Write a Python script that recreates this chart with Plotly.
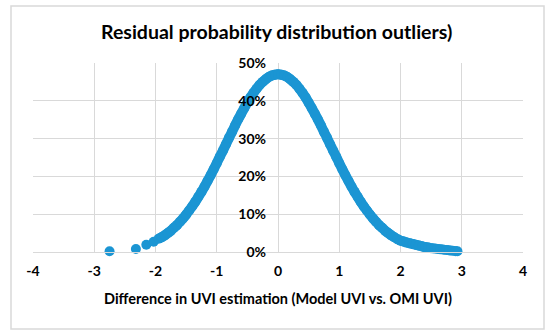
import plotly.graph_objects as go

# Sparse left-tail residual points
tail_x = [-2.75, -2.32, -2.15, -2.03]
tail_y = [0.002, 0.008, 0.019, 0.027]

# Dense residual points (x difference, probability)
dense_x = [-1.95, -1.90, -1.85, -1.80, -1.75, -1.70, -1.65, -1.60, -1.55, -1.50,
           -1.45, -1.40, -1.35, -1.30, -1.25, -1.20, -1.15, -1.10, -1.05, -1.00,
           -0.95, -0.90, -0.85, -0.80, -0.75, -0.70, -0.65, -0.60, -0.55, -0.50,
           -0.45, -0.40, -0.35, -0.30, -0.25, -0.20, -0.15, -0.10, -0.05, 0.00,
           0.05, 0.10, 0.15, 0.20, 0.25, 0.30, 0.35, 0.40, 0.45, 0.50,
           0.55, 0.60, 0.65, 0.70, 0.75, 0.80, 0.85, 0.90, 0.95, 1.00,
           1.05, 1.10, 1.15, 1.20, 1.25, 1.30, 1.35, 1.40, 1.45, 1.50,
           1.55, 1.60, 1.65, 1.70, 1.75, 1.80, 1.85, 1.90, 1.95, 2.00,
           2.05, 2.10, 2.15, 2.20, 2.25, 2.30, 2.35, 2.40, 2.45, 2.50,
           2.55, 2.60, 2.65, 2.70, 2.75, 2.80, 2.85, 2.90, 2.93]
dense_y = [0.035, 0.039, 0.044, 0.050, 0.056, 0.064, 0.071, 0.080, 0.089, 0.099,
           0.110, 0.121, 0.133, 0.146, 0.159, 0.173, 0.188, 0.203, 0.219, 0.235,
           0.252, 0.268, 0.285, 0.302, 0.318, 0.335, 0.351, 0.366, 0.381, 0.395,
           0.409, 0.421, 0.432, 0.442, 0.450, 0.457, 0.463, 0.467, 0.469, 0.470,
           0.469, 0.467, 0.463, 0.457, 0.450, 0.442, 0.432, 0.421, 0.409, 0.395,
           0.381, 0.366, 0.351, 0.335, 0.318, 0.302, 0.285, 0.268, 0.252, 0.235,
           0.219, 0.203, 0.188, 0.173, 0.159, 0.146, 0.133, 0.121, 0.110, 0.099,
           0.089, 0.080, 0.071, 0.064, 0.056, 0.050, 0.044, 0.039, 0.034, 0.030,
           0.028, 0.025, 0.023, 0.021, 0.019, 0.017, 0.015, 0.013, 0.012, 0.010,
           0.009, 0.008, 0.007, 0.006, 0.005, 0.004, 0.003, 0.002, 0.002]

x_ticks = [-4, -3, -2, -1, 0, 1, 2, 3, 4]
y_ticks = [0, 0.1, 0.2, 0.3, 0.4, 0.5]
y_tick_labels = ["0%", "10%", "20%", "30%", "40%", "50%"]

TITLE = "Residual probability distribution outliers)"
X_TITLE = "Difference in UVI estimation (Model UVI vs. OMI UVI)"

BLUE = "#1B95D3"
GRID = "#D9D9D9"
FONT = "Lato"

fig = go.Figure()
fig.add_trace(go.Scatter(x=tail_x, y=tail_y, mode="markers",
                         marker=dict(size=10, color=BLUE), showlegend=False,
                         cliponaxis=False))
fig.add_trace(go.Scatter(x=dense_x, y=dense_y, mode="lines+markers",
                         line=dict(color=BLUE, width=10, shape="spline",
                                   smoothing=0.6),
                         marker=dict(size=10, color=BLUE), showlegend=False,
                         cliponaxis=False))

L, R, T, B = 33, 27, 63, 83
W, H = 550, 335
pw = W - L - R
ph = H - T - B

def px_x(p):
    return (p - L) / pw

def px_y(p):
    return (H - B - p) / ph

fig.update_layout(
    width=W, height=H, autosize=False,
    margin=dict(l=L, r=R, t=T, b=B, pad=0),
    paper_bgcolor="white", plot_bgcolor="white",
    font=dict(family=FONT, color="#000000"),
    title=dict(text="<b>" + TITLE + "</b>", x=0.503, xref="container",
               xanchor="center", y=1 - 32 / H, yref="container", yanchor="middle",
               font=dict(size=19.5, family=FONT, color="#000000")),
    xaxis=dict(range=[-4, 4], tickvals=x_ticks,
               ticktext=["<b>%d</b>" % v for v in x_ticks],
               showgrid=True, gridcolor=GRID, gridwidth=1,
               zeroline=False, showline=True, linecolor=GRID, linewidth=1,
               ticks="", tickfont=dict(size=14, family=FONT, color="#000000"),
               ticklabelstandoff=6, fixedrange=True),
    yaxis=dict(range=[0, 0.5], tickvals=y_ticks,
               ticktext=["<b>%s</b>" % t for t in y_tick_labels],
               showgrid=True, gridcolor=GRID, gridwidth=1,
               zeroline=False, showline=False, ticks="",
               anchor="free", position=0.5,
               tickfont=dict(size=14, family=FONT, color="#000000"),
               ticklabelstandoff=12, fixedrange=True),
    shapes=[dict(type="rect", xref="paper", yref="paper",
                 x0=px_x(11), x1=px_x(544), y0=px_y(329), y1=px_y(6),
                 line=dict(color=GRID, width=1.5), layer="below")],
    annotations=[dict(text="<b>" + X_TITLE + "</b>", xref="paper", yref="paper",
                      x=0.5, y=px_y(298), xanchor="center", yanchor="middle",
                      showarrow=False,
                      font=dict(size=14.5, family=FONT, color="#000000"))],
)

fig.write_html("out.html", config={"displayModeBar": False},
               post_script="document.body.style.margin='0';")
